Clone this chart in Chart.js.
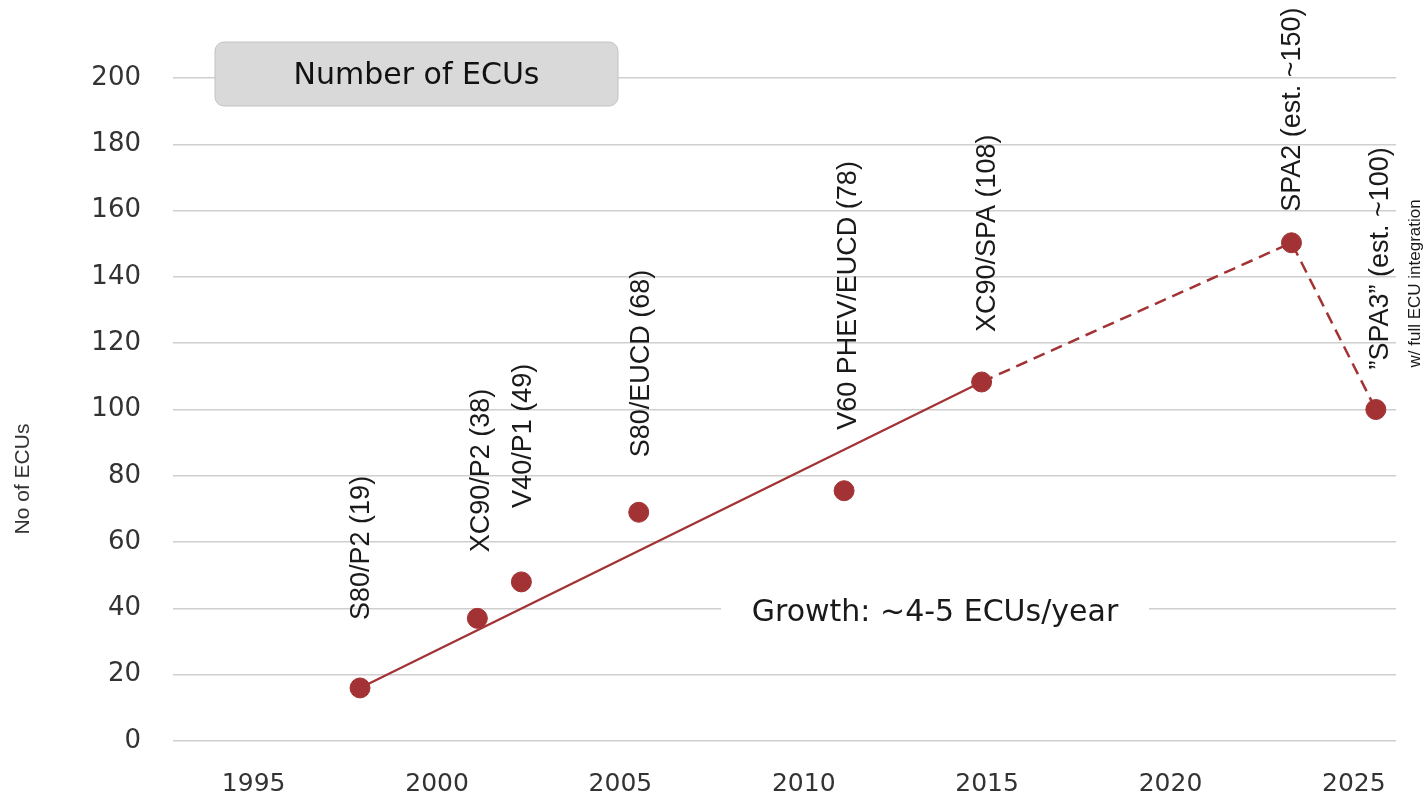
<!DOCTYPE html>
<html>
<head>
<meta charset="utf-8">
<script src="https://cdn.jsdelivr.net/npm/chart.js@4/dist/chart.umd.min.js"></script>
<style>
  html, body { margin: 0; padding: 0; background: #fff; }
  #wrap { width: 1426px; height: 803px; position: relative; }
</style>
</head>
<body>
<div id="wrap"><canvas id="mycanvas"></canvas></div>
<script>
// platform / model, year of launch, number of ECUs
var names = ['S80/P2 (19)', 'XC90/P2 (38)', 'V40/P1 (49)', 'S80/EUCD (68)',
             'V60 PHEV/EUCD (78)', 'XC90/SPA (108)', 'SPA2 (est. ~150)', '\u201DSPA3\u201D (est. ~100)'];
var years = [1997.9, 2001.1, 2002.3, 2005.5, 2011.1, 2014.85, 2023.3, 2025.6];
var ecus = [16, 37, 48, 69, 75.5, 108.3, 150.3, 100];
var xTicks = [1995, 2000, 2005, 2010, 2015, 2020, 2025];
var yTicks = [0, 20, 40, 60, 80, 100, 120, 140, 160, 180, 200];
var solidIdx = [0, 5];      // trend line, actual
var dashedIdx = [5, 6, 7];  // trend line, estimated

// where each rotated label sits relative to its point (px)
var labelOffsets = [[2, -68], [4, -66], [2, -74], [3, -55], [4, -61], [6, -50], [1, -31], [5, -40]];

var red = '#a33234';

function pts(idx) {
  return idx.map(function (i) { return { x: years[i], y: ecus[i] }; });
}
var allPts = years.map(function (y, i) { return { x: y, y: ecus[i] }; });

var extras = {
  id: 'extras',
  afterDatasetsDraw: function (chart) {
    var ctx = chart.ctx;
    var xs = chart.scales.x, ys = chart.scales.y;
    ctx.save();

    // rotated point labels
    ctx.fillStyle = '#1a1a1a';
    ctx.font = '27px "Liberation Sans", Arial, sans-serif';
    ctx.textAlign = 'left';
    ctx.textBaseline = 'middle';
    for (var i = 0; i < names.length; i++) {
      var px = xs.getPixelForValue(years[i]) + labelOffsets[i][0];
      var py = ys.getPixelForValue(ecus[i]) + labelOffsets[i][1];
      ctx.save();
      ctx.translate(px, py);
      ctx.rotate(-Math.PI / 2);
      ctx.fillText(names[i], 0, 0);
      ctx.restore();
    }
    // small note next to SPA3
    var last = names.length - 1;
    ctx.save();
    ctx.font = '17px "Liberation Sans", Arial, sans-serif';
    ctx.translate(xs.getPixelForValue(years[last]) + 39, ys.getPixelForValue(ecus[last]) - 42);
    ctx.rotate(-Math.PI / 2);
    ctx.fillText('w/ full ECU integration', 0, 0);
    ctx.restore();

    // title box
    var bx = 215, by = 42, bw = 403, bh = 64, r = 9;
    ctx.beginPath();
    ctx.moveTo(bx + r, by);
    ctx.arcTo(bx + bw, by, bx + bw, by + bh, r);
    ctx.arcTo(bx + bw, by + bh, bx, by + bh, r);
    ctx.arcTo(bx, by + bh, bx, by, r);
    ctx.arcTo(bx, by, bx + bw, by, r);
    ctx.closePath();
    ctx.fillStyle = '#d9d9d9';
    ctx.fill();
    ctx.strokeStyle = '#c2c2c2';
    ctx.lineWidth = 1;
    ctx.stroke();
    ctx.fillStyle = '#111';
    ctx.font = '30px "DejaVu Sans", sans-serif';
    ctx.textAlign = 'center';
    ctx.textBaseline = 'middle';
    ctx.fillText('Number of ECUs', bx + bw / 2, by + bh / 2 + 2);

    // growth note
    ctx.fillStyle = '#fff';
    ctx.fillRect(721, 595, 428, 36);
    ctx.fillStyle = '#1a1a1a';
    ctx.fillText('Growth: ~4-5 ECUs/year', 935, 613);

    // y axis title
    ctx.save();
    ctx.font = '21px "Liberation Sans", Arial, sans-serif';
    ctx.fillStyle = '#333';
    ctx.translate(23, 479);
    ctx.rotate(-Math.PI / 2);
    ctx.fillText('No of ECUs', 0, 0);
    ctx.restore();

    ctx.restore();
  }
};

var ctx = document.getElementById('mycanvas').getContext('2d');
var myChart = new Chart(ctx, {
  type: 'scatter',
  data: {
    datasets: [{
      label: 'ECUs',
      data: allPts,
      backgroundColor: red,
      borderColor: red,
      pointRadius: 10,
      pointHoverRadius: 10,
      showLine: false,
      clip: false,
      order: 0
    }, {
      label: 'trend',
      data: pts(solidIdx),
      borderColor: red,
      borderWidth: 2.3,
      pointRadius: 0,
      showLine: true,
      order: 1
    }, {
      label: 'trend est.',
      data: pts(dashedIdx),
      borderColor: red,
      borderWidth: 2.5,
      borderDash: [12, 7],
      pointRadius: 0,
      showLine: true,
      order: 1
    }]
  },
  options: {
    responsive: true,
    maintainAspectRatio: false,
    animation: false,
    layout: { padding: { top: 78, right: 30, left: 0, bottom: 0 } },
    plugins: {
      legend: { display: false },
      tooltip: { enabled: false },
      title: { display: false }
    },
    scales: {
      x: {
        type: 'linear',
        min: 1992.8,
        max: 2026.15,
        grid: { display: false, drawTicks: false },
        border: { display: false },
        afterBuildTicks: function (axis) {
          axis.ticks = xTicks.map(function (v) { return { value: v }; });
        },
        afterFit: function (axis) { axis.height = 62; },
        ticks: {
          padding: 28,
          color: '#333',
          maxRotation: 0,
          font: { family: '"DejaVu Sans", sans-serif', size: 25 },
          callback: function (v) { return String(v); }
        }
      },
      y: {
        min: 0,
        max: 200,
        afterBuildTicks: function (axis) {
          axis.ticks = yTicks.map(function (v) { return { value: v }; });
        },
        afterFit: function (axis) { axis.width = 173; },
        grid: { color: '#cfcfcf', lineWidth: 1.5, drawTicks: false },
        border: { display: false },
        ticks: {
          padding: 32,
          color: '#333',
          font: { family: '"DejaVu Sans", sans-serif', size: 26 },
          callback: function (v) { return String(v); }
        }
      }
    }
  },
  plugins: [extras]
});
</script>
</body>
</html>
